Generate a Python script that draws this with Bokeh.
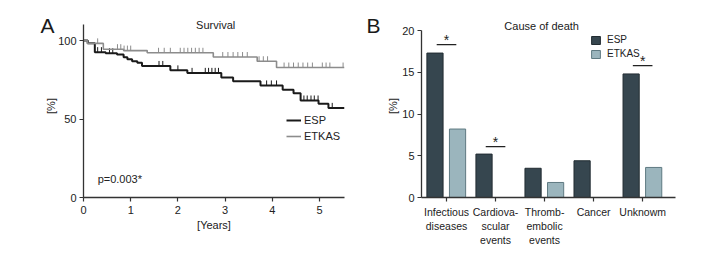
import numpy as np
from bokeh.plotting import figure
from bokeh.layouts import row
from bokeh.models import (FixedTicker, Label, Legend, LegendItem, ColumnDataSource, Range1d, Title)
from bokeh.core.properties import value
from bokeh.embed import file_html
from bokeh.resources import INLINE

FONT = "Liberation Sans"

# ---------------- Data: Panel A (Kaplan-Meier survival, %) ----------------
esp_t = [0, 0.09, 0.24, 0.47, 0.71, 0.85, 0.93, 1.03, 1.14, 1.24, 1.84, 2.2, 2.92, 3.17, 3.75, 4.22, 4.45, 4.6, 4.98, 5.19]
esp_s = [100, 98.3, 92.6, 91.9, 91.1, 89.4, 88.1, 86.8, 85.8, 83.8, 81.0, 79.4, 76.4, 74.0, 71.4, 68.6, 66.4, 61.8, 59.7, 57.1]
esp_cens = [0.3, 0.38, 0.55, 0.62, 1.6, 1.68, 2.0, 2.3, 2.58, 2.65, 2.72, 2.79, 2.86,
            3.88, 3.98, 4.09, 4.67, 4.74, 4.82, 4.89, 4.97, 5.27]
etkas_t = [0, 0.08, 0.42, 0.85, 1.35, 2.75, 3.68, 4.09]
etkas_s = [100, 98.2, 94.5, 93.6, 92.2, 89.5, 86.8, 82.8]
etkas_cens = [0.3, 0.72, 0.79, 0.86, 0.93, 1.0, 1.59, 1.71, 1.84, 2.05, 2.13, 2.21, 2.29, 2.37,
              2.45, 2.53, 2.95, 3.06, 3.17, 3.27, 3.37, 3.47, 3.72, 3.81, 3.9, 4.25, 4.35,
              4.45, 4.55, 4.65, 4.75, 4.85, 5.06, 5.14, 5.22, 5.5]
end_time = 5.53
p_value_text = "p=0.003*"

# ---------------- Data: Panel B (cause of death, %) ----------------
causes = ["Infectious\ndiseases", "Cardiova-\nscular\nevents", "Thromb-\nembolic\nevents", "Cancer", "Unknowm"]
esp_vals = [17.3, 5.2, 3.5, 4.4, 14.8]
etkas_vals = [8.2, 0, 1.8, 0, 3.6]
sig_idx = [0, 1, 4]
sig_level = [18.3, 6.1, 15.8]

DARK = "#36464f"
LIGHT = "#9bb5bd"


def style_axes(p, size="11px"):
    for ax in (p.xaxis[0], p.yaxis[0]):
        ax.axis_line_color = "#333333"
        ax.axis_line_width = 1.3
        ax.major_tick_line_color = "#333333"
        ax.major_tick_line_width = 1.2
        ax.major_tick_out = 4
        ax.major_tick_in = 0
        ax.minor_tick_line_color = None
        ax.major_label_text_font = FONT
        ax.major_label_text_font_size = size
        ax.major_label_text_color = "#222222"
        ax.axis_label_text_font = FONT
        ax.axis_label_text_font_size = "11px"
        ax.axis_label_text_font_style = "normal"
        ax.axis_label_text_color = "#222222"
    p.grid.grid_line_color = None
    p.outline_line_color = None


def title(text, size, standoff, offset=0, align="center"):
    return Title(text=text, align=align, standoff=standoff, offset=offset, text_font=FONT,
                 text_font_size=size, text_font_style="normal", text_color="#1a1a1a")


# ================= Panel A =================
pa = figure(width=360, height=260, output_backend="svg", toolbar_location=None,
            x_range=Range1d(0, end_time), y_range=Range1d(0, 116.6),
            min_border_left=83, min_border_right=16, min_border_top=14, min_border_bottom=63)
pa.add_layout(title("A", "21px", -44, offset=-43, align="left"), "above")
style_axes(pa)
pa.xaxis.ticker = FixedTicker(ticks=[0, 1, 2, 3, 4, 5])
pa.yaxis.ticker = FixedTicker(ticks=[0, 50, 100])
pa.yaxis.bounds = (0, 110)
pa.xaxis.axis_label = "[Years]"
pa.yaxis.axis_label = "[%]"
pa.xaxis.major_label_standoff = 4
pa.yaxis.major_label_standoff = 3
pa.xaxis.axis_label_standoff = 2
pa.yaxis.axis_label_standoff = -2


def step_source(t, s):
    return ColumnDataSource(dict(x=list(t) + [end_time], y=list(s) + [s[-1]]))


def cens_y(t, s, c):
    idx = np.searchsorted(np.array(t), np.array(c), side="right") - 1
    return np.array(s)[idx] + 1.6


r_e = pa.step("x", "y", source=step_source(esp_t, esp_s), mode="after", line_color="#1a1a1a", line_width=2)
c_e = pa.scatter(esp_cens, cens_y(esp_t, esp_s, esp_cens), marker="dash", angle=np.pi / 2,
                 size=5, line_color="#1a1a1a", line_width=1)
r_k = pa.step("x", "y", source=step_source(etkas_t, etkas_s), mode="after", line_color="#8c8c8c", line_width=1.6)
c_k = pa.scatter(etkas_cens, cens_y(etkas_t, etkas_s, etkas_cens), marker="dash", angle=np.pi / 2,
                 size=5, line_color="#8c8c8c", line_width=1)

leg_a = Legend(items=[LegendItem(label="ESP", renderers=[r_e, c_e]),
                      LegendItem(label="ETKAS", renderers=[r_k, c_k])],
               location=(203, 54), orientation="vertical", padding=0, margin=0, spacing=2,
               glyph_width=15, glyph_height=14, label_height=14, label_standoff=3,
               background_fill_alpha=0, border_line_color=None,
               label_text_font=FONT, label_text_font_size="11px", label_text_color="#222222")
pa.add_layout(leg_a)

pa.add_layout(Label(x=0.3, y=12, text=p_value_text, text_font=FONT, text_font_size="11px",
                    text_baseline="middle", text_color="#222222"))
pa.add_layout(Label(x=2.8, y=109.6, text="Survival", text_font=FONT, text_font_size="11px",
                    text_align="center", text_baseline="middle", text_color="#1a1a1a"))

# ================= Panel B =================
xpos = np.arange(len(causes))
pb = figure(width=356, height=260, output_backend="svg", toolbar_location=None,
            x_range=Range1d(-0.51, 4.67), y_range=Range1d(0, 21.92),
            min_border_left=61, min_border_right=41, min_border_top=14, min_border_bottom=63)
pb.add_layout(title("B", "21px", -44, offset=-55, align="left"), "above")
style_axes(pb, size="10.5px")
pb.xaxis.ticker = FixedTicker(ticks=list(xpos))
pb.xaxis.major_label_overrides = {int(i): c for i, c in zip(xpos, causes)}
pb.yaxis.ticker = FixedTicker(ticks=[0, 5, 10, 15, 20])
pb.yaxis.bounds = (0, 20)
pb.yaxis.major_label_text_font_size = "11px"
pb.yaxis.axis_label = "[%]"
pb.xaxis.major_label_standoff = 4
pb.yaxis.major_label_standoff = 3
pb.yaxis.axis_label_standoff = 0

b_e = pb.vbar(x=xpos - 0.235, top=esp_vals, width=0.33, fill_color=DARK, line_color="#222c32", line_width=1)
b_k = pb.vbar(x=xpos + 0.225, top=etkas_vals, width=0.33, fill_color=LIGHT, line_color="#5f7a82", line_width=1)

leg_b = Legend(items=[LegendItem(label="ESP", renderers=[b_e]),
                      LegendItem(label="ETKAS", renderers=[b_k])],
               location=(169, 137), orientation="vertical", padding=0, margin=0, spacing=1,
               glyph_width=11, glyph_height=10, label_height=13, label_standoff=6,
               background_fill_alpha=0, border_line_color=None,
               label_text_font=FONT, label_text_font_size="10px", label_text_color="#222222")
pb.add_layout(leg_b)

sx = xpos[sig_idx]
pb.segment(x0=sx - 0.2, x1=sx + 0.2, y0=sig_level, y1=sig_level, line_color="#222222", line_width=1.3)
pb.text(x=sx, y=np.array(sig_level) + 0.6, text=["*"] * len(sx), text_font=value(FONT),
        text_font_size="14px", text_align="center", text_baseline="middle", text_color="#222222")

pb.add_layout(Label(x=1.94, y=20.6, text="Cause of death", text_font=FONT, text_font_size="11px",
                    text_align="center", text_baseline="middle", text_color="#1a1a1a"))

layout = row(pa, pb)
open("out.html", "w").write(file_html(layout, INLINE))
